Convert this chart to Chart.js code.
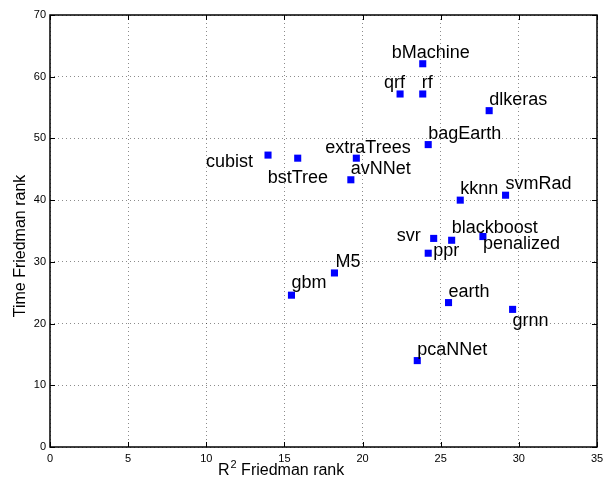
<!DOCTYPE html>
<html>
<head>
<meta charset="utf-8">
<script src="https://cdn.jsdelivr.net/npm/chart.js@4"></script>
<style>
    body { margin: 0; background: #fff; }
    #wrap { width: 603px; height: 487px; position: relative; }
</style>
</head>
<body>
<div id="wrap"><canvas id="rank-chart"></canvas></div>
<script>
const models = ['bMachine', 'qrf', 'rf', 'dlkeras', 'bagEarth', 'extraTrees', 'avNNet', 'cubist', 'bstTree', 'kknn',
    'svmRad', 'svr', 'blackboost', 'penalized', 'ppr', 'M5', 'gbm', 'earth', 'grnn', 'pcaNNet'];
const r2Rank = [23.85, 22.4, 23.85, 28.1, 24.2, 19.6, 19.25, 13.95, 15.85, 26.25,
    29.15, 24.55, 25.7, 27.7, 24.2, 18.2, 15.45, 25.5, 29.6, 23.5];
const timeRank = [62.1, 57.2, 57.2, 54.5, 49.0, 46.8, 43.3, 47.3, 46.8, 40.0,
    40.8, 33.8, 33.5, 34.1, 31.4, 28.2, 24.6, 23.4, 22.3, 14.0];
const xTicks = [0, 5, 10, 15, 20, 25, 30, 35];
const yTicks = [0, 10, 20, 30, 40, 50, 60, 70];

// where each name sits next to its square: [dx, dy, align]
const labelPos = {
    bMachine: [-31, -6, 'left'], qrf: [-16, -6, 'left'], rf: [-1, -6, 'left'],
    dlkeras: [0, -6, 'left'], bagEarth: [0, -6, 'left'], extraTrees: [-31, -5, 'left'],
    avNNet: [0, -6, 'left'], cubist: [-15, 12, 'right'], bstTree: [-30, 25, 'left'],
    kknn: [0, -6, 'left'], svmRad: [0, -6, 'left'], svr: [-13, 3, 'right'],
    blackboost: [0, -7, 'left'], penalized: [0, 12, 'left'], ppr: [5, 3, 'left'],
    M5: [1, -6, 'left'], gbm: [0, -7, 'left'], earth: [0, -6, 'left'],
    grnn: [0, 17, 'left'], pcaNNet: [0, -6, 'left']
};

const FONT = '"Liberation Sans", Arial, Helvetica, sans-serif';

// names, black frame with inward ticks, axis titles
const decorations = {
    id: 'decorations',
    afterDatasetsDraw(chart) {
        const ctx = chart.ctx;
        const { left, right, top, bottom } = chart.chartArea;
        const xs = chart.scales.x, ys = chart.scales.y;
        ctx.save();

        // frame
        ctx.strokeStyle = '#000';
        ctx.lineWidth = 1.5;
        ctx.strokeRect(left, top, right - left, bottom - top);
        ctx.lineWidth = 1;
        ctx.beginPath();
        xTicks.forEach(v => {
            const px = Math.round(xs.getPixelForValue(v)) + 0.5;
            ctx.moveTo(px, bottom); ctx.lineTo(px, bottom - 5);
            ctx.moveTo(px, top); ctx.lineTo(px, top + 5);
        });
        yTicks.forEach(v => {
            const py = Math.round(ys.getPixelForValue(v)) + 0.5;
            ctx.moveTo(left, py); ctx.lineTo(left + 5, py);
            ctx.moveTo(right, py); ctx.lineTo(right - 5, py);
        });
        ctx.stroke();

        // point names
        ctx.fillStyle = '#000';
        ctx.font = '18px ' + FONT;
        ctx.textBaseline = 'alphabetic';
        models.forEach((name, i) => {
            const p = labelPos[name];
            ctx.textAlign = p[2];
            ctx.fillText(name, xs.getPixelForValue(r2Rank[i]) + p[0], ys.getPixelForValue(timeRank[i]) + p[1]);
        });

        // x title with superscript
        ctx.textAlign = 'left';
        ctx.font = '16px ' + FONT;
        let tx = 218, ty = 475;
        ctx.fillText('R', tx, ty);
        tx += ctx.measureText('R').width;
        ctx.font = '11px ' + FONT;
        ctx.fillText('2', tx + 1, ty - 7);
        tx += ctx.measureText('2').width + 1;
        ctx.font = '16px ' + FONT;
        ctx.fillText(' Friedman rank', tx, ty);

        // y title
        ctx.translate(25, 246);
        ctx.rotate(-Math.PI / 2);
        ctx.textAlign = 'center';
        ctx.fillText('Time Friedman rank', 0, 0);
        ctx.restore();
    }
};

function scatterchart() {
    new Chart(document.getElementById('rank-chart'), {
        type: 'scatter',
        data: {
            datasets: [{
                label: 'models',
                data: models.map((m, i) => ({ x: r2Rank[i], y: timeRank[i] })),
                pointStyle: 'rect',
                pointRadius: 5,
                pointHoverRadius: 5,
                borderWidth: 0,
                backgroundColor: '#0000ff'
            }]
        },
        options: {
            responsive: true,
            maintainAspectRatio: false,
            animation: false,
            layout: { padding: { top: 15, right: 6, left: 0, bottom: 0 } },
            plugins: {
                legend: { display: false },
                tooltip: { enabled: false }
            },
            scales: {
                x: {
                    type: 'linear',
                    min: 0,
                    max: 35,
                    afterBuildTicks: s => { s.ticks = xTicks.map(v => ({ value: v })); },
                    afterFit: s => { s.height = 40; s.paddingLeft = 0; s.paddingRight = 0; },
                    grid: { color: 'rgba(0,0,0,0.45)', drawTicks: false },
                    border: { display: false, dash: [1, 3] },
                    ticks: { color: '#000', padding: 5, maxRotation: 0, font: { size: 11, family: FONT } }
                },
                y: {
                    type: 'linear',
                    min: 0,
                    max: 70,
                    afterBuildTicks: s => { s.ticks = yTicks.map(v => ({ value: v })); },
                    afterFit: s => { s.width = 50; s.paddingTop = 0; s.paddingBottom = 0; },
                    grid: { color: 'rgba(0,0,0,0.45)', drawTicks: false },
                    border: { display: false, dash: [1, 3] },
                    ticks: { color: '#000', padding: 4, font: { size: 11, family: FONT } }
                }
            }
        },
        plugins: [decorations]
    });
}

scatterchart();
</script>
</body>
</html>
